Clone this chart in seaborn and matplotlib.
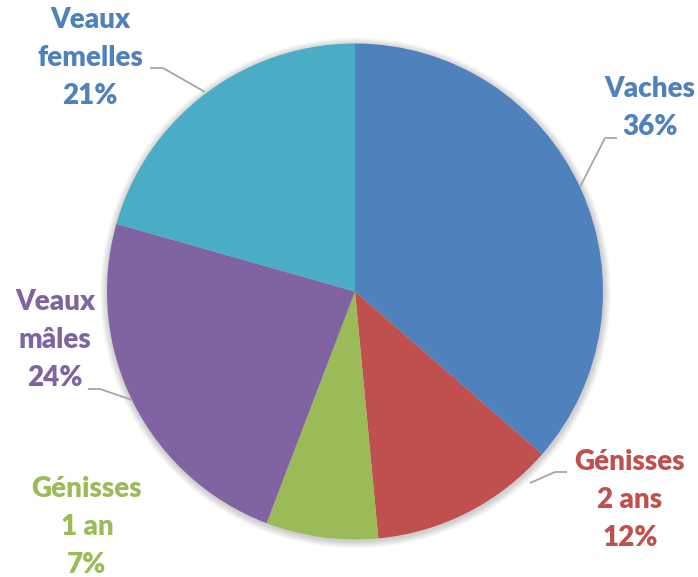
import matplotlib
matplotlib.use("Agg")
import matplotlib.pyplot as plt
from matplotlib.patches import Circle
import seaborn as sns

# Chart data (shares, labels shown rounded)
categories = ["Vaches", "Génisses\n2 ans", "Génisses\n1 an", "Veaux\nmâles", "Veaux\nfemelles"]
shares = [36.4, 12.1, 7.3, 23.6, 20.6]
slice_colors = ["#4F81BD", "#C0504D", "#9BBB59", "#8064A2", "#4BACC6"]
label_colors = ["#4F81BD", "#C0504D", "#9BBB59", "#8064A2", "#4F81BD"]

sns.set_theme(style="white")
plt.rcParams["font.family"] = ["Lato", "DejaVu Sans"]

W, H = 698, 577
fig = plt.figure(figsize=(W / 100, H / 100), dpi=100)
ax = fig.add_axes([0, 0, 1, 1])


def py(y):
    # convert top-down pixel y to data y
    return H - y


cx, cy, r = 355, py(291.5), 248

# soft shadow around the pie
for k in range(8):
    ax.add_patch(Circle((cx + 0.5, cy - 1.5), r + 1 + k * 0.9, color="black",
                        alpha=0.025, lw=0, zorder=0))

ax.pie(shares, colors=slice_colors, startangle=90, counterclock=False,
       center=(cx, cy), radius=r, wedgeprops={"linewidth": 0, "zorder": 1})

# label text positions (pixel centers) and leader lines
label_pos = [(650, 108), (630, 500), (87, 527), (55, 340), (90, 58)]
leaders = [
    [(580, 187), (605, 138), (617, 138)],
    [(530, 483), (555, 472), (567, 472)],
    None,
    [(132, 400), (100, 389), (88, 389)],
    [(205, 92), (163, 68), (150, 68)],
]

for cat, val, col, (x, y), lead in zip(categories, shares, label_colors, label_pos, leaders):
    ax.text(x, py(y), f"{cat}\n{val:.0f}%", color=col, fontsize=20, fontweight="heavy",
            ha="center", va="center", linespacing=1.55)
    if lead:
        ax.plot([p[0] for p in lead], [py(p[1]) for p in lead],
                color="#A6A6A6", lw=1.3, solid_capstyle="butt")

ax.set_xlim(0, W)
ax.set_ylim(0, H)
ax.set_aspect("equal")
ax.axis("off")

fig.savefig("out.png", dpi=100)
